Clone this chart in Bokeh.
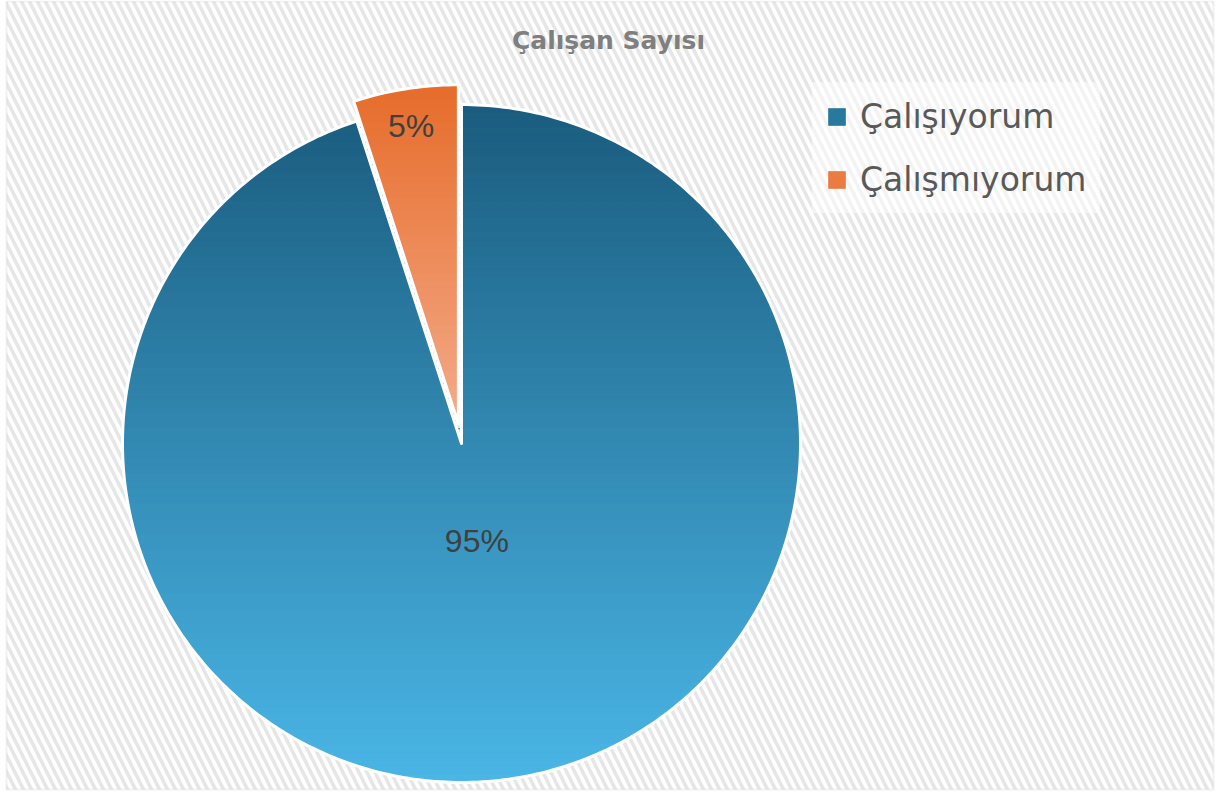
import math
from bokeh.plotting import figure
from bokeh.models import Range1d, BoxAnnotation, Label, Legend, LegendItem
from bokeh.core.properties import value
from bokeh.embed import file_html
from bokeh.resources import INLINE

# ---- data ----
title_text = "Çalışan Sayısı"
categories = ["Çalışıyorum", "Çalışmıyorum"]
values = [95, 5]

# ---- style / layout ----
top_colors = [(0x1a, 0x5c, 0x7e), (0xe6, 0x6c, 0x2a)]
bottom_colors = [(0x4a, 0xb6, 0xe6), (0xf4, 0xab, 0x8a)]
legend_frac = [0.3, 0.25]
explode = [0, 20]
label_pos = [0.29, 0.89]
CX, CY, R = 461, 443, 339

W, H = 1216, 793
p = figure(width=W, height=H, output_backend="svg", toolbar_location=None,
           x_range=Range1d(0, W), y_range=Range1d(H, 0), min_border=0,
           background_fill_color="white", border_fill_color="white")
p.axis.visible = False
p.grid.visible = False
p.outline_line_alpha = 0

p.add_layout(BoxAnnotation(left=6, right=1213, top=1, bottom=789, level="underlay",
                           fill_alpha=0, line_color="#d4d4d4", line_width=2,
                           hatch_pattern="\\", hatch_scale=16, hatch_weight=3.5,
                           hatch_color="#e6e6e6"))


def wedge_poly(cx, cy, r, a0, a1, n=400):
    pts = [(cx, cy)]
    k = max(4, int(n * (a1 - a0) / 360))
    for i in range(k + 1):
        a = math.radians(a0 + (a1 - a0) * i / k)
        pts.append((cx + r * math.sin(a), cy - r * math.cos(a)))
    return pts


def clip_half(pts, y0, ge):
    out = []
    n = len(pts)
    for i in range(n):
        cur, prev = pts[i], pts[i - 1]
        cin = cur[1] >= y0 if ge else cur[1] <= y0
        pin = prev[1] >= y0 if ge else prev[1] <= y0
        if cin != pin:
            t = (y0 - prev[1]) / (cur[1] - prev[1])
            out.append((prev[0] + t * (cur[0] - prev[0]), y0))
        if cin:
            out.append(cur)
    return out


def hexc(c):
    return "#%02x%02x%02x" % tuple(int(round(v)) for v in c)


total = sum(values)
start = 0.0
legend_items = []
label_x, label_y, label_t = [], [], []
for idx, v in enumerate(values):
    span = 360.0 * v / total
    a0, a1 = start, start + span          # clockwise from 12 o'clock
    mid = math.radians((a0 + a1) / 2)
    cx = CX + explode[idx] * math.sin(mid)
    cy = CY - explode[idx] * math.cos(mid)
    poly = wedge_poly(cx, cy, R, a0, a1)
    ys = [q[1] for q in poly]
    ymin, ymax = min(ys), max(ys)
    nb = 90 if idx == 0 else 45
    xs_l, ys_l, cols = [], [], []
    for b in range(nb):
        y0 = ymin + (ymax - ymin) * b / nb
        y1 = ymin + (ymax - ymin) * (b + 1) / nb
        part = clip_half(clip_half(poly, y0 - 0.3, True), y1 + 0.3, False)
        if len(part) < 3:
            continue
        t = (b + 0.5) / nb
        c = [top_colors[idx][j] + (bottom_colors[idx][j] - top_colors[idx][j]) * t for j in range(3)]
        xs_l.append([q[0] for q in part])
        ys_l.append([q[1] for q in part])
        cols.append(hexc(c))
    rend = p.patches(xs=xs_l, ys=ys_l, fill_color=cols, line_color=cols, line_width=0.8)
    p.patch(x=[q[0] for q in poly], y=[q[1] for q in poly], fill_alpha=0,
            line_color="white", line_width=3, line_join="round")
    lr = R * label_pos[idx]
    label_x.append(cx + lr * math.sin(mid))
    label_y.append(cy - lr * math.cos(mid))
    label_t.append(f"{v}%")
    legend_items.append(LegendItem(label=categories[idx], renderers=[rend],
                                   index=int(len(cols) * legend_frac[idx])))
    start = a1

p.text(x=label_x, y=label_y, text=label_t, text_font=value("Liberation Sans"),
       text_font_size="32px", text_color="#404040", text_align="center",
       text_baseline="middle")

p.add_layout(Label(x=608, y=40, text=title_text, text_font="DejaVu Sans",
                   text_font_style="bold", text_font_size="25px", text_color="#7f7f7f",
                   text_align="center", text_baseline="middle"))

legend = Legend(items=legend_items, location=(812, 580), orientation="vertical",
                label_text_font="DejaVu Sans", label_text_font_size="33px",
                label_text_color="#595959", glyph_width=21, glyph_height=21,
                label_standoff=13, spacing=23, padding=14, label_height=40,
                background_fill_color="white", background_fill_alpha=0.5,
                border_line_alpha=0)
p.add_layout(legend, "center")

open("out.html", "w").write(file_html(p, INLINE))
